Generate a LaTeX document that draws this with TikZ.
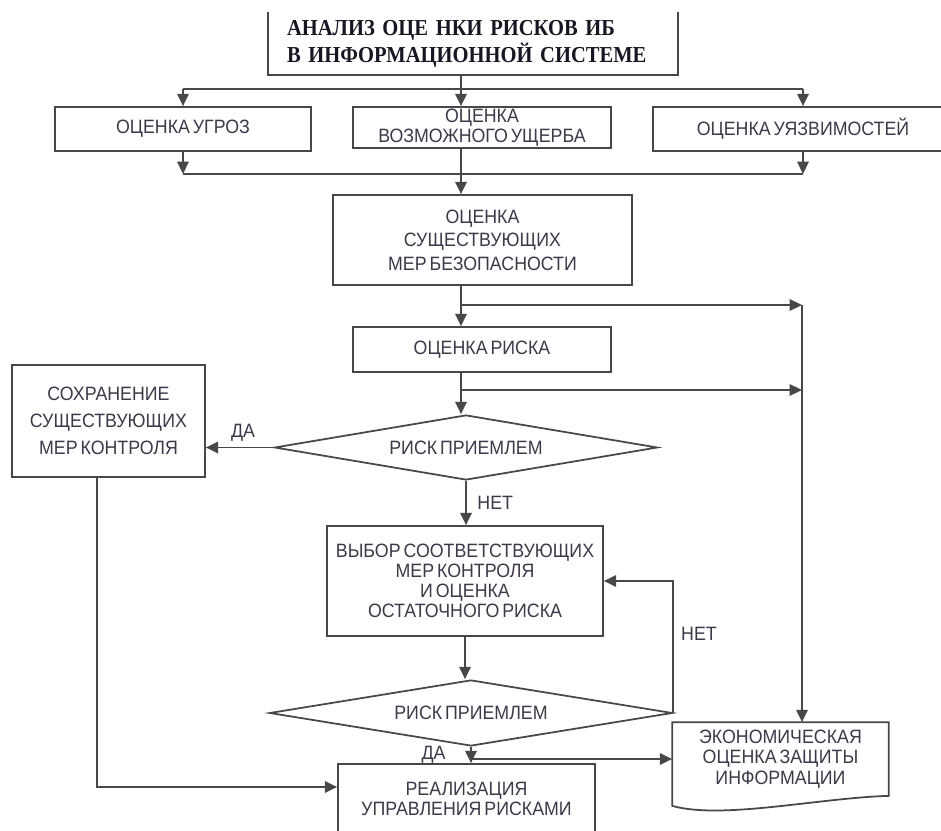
\documentclass[tikz,border=0pt]{standalone}
\usepackage{fontspec}
\usetikzlibrary{shapes.geometric,arrows.meta}
\newfontfamily\boxfont[FakeStretch=0.92,WordSpace=0.6]{Liberation Sans}
\newfontfamily\titlefont[FakeStretch=0.9,WordSpace=0.5]{Liberation Serif}
\definecolor{linegray}{RGB}{72,72,72}
\definecolor{textgray}{RGB}{62,56,72}
\begin{document}
\begin{tikzpicture}[x=0.02cm,y=-0.02cm,
  box/.style={draw=linegray,line width=1pt,fill=white,align=center,inner sep=0pt,
    font=\boxfont\fontsize{11}{11.5}\selectfont,text=textgray},
  decision/.style={box,diamond,aspect=6},
  arr/.style={draw=linegray,line width=1pt,-{Triangle[length=7pt,width=6.5pt]}},
  line/.style={draw=linegray,line width=1pt},
  lbl/.style={font=\boxfont\fontsize{11}{11.5}\selectfont,text=textgray,inner sep=0pt}]
  \useasboundingbox (0,0) rectangle (941,831);
  \clip (0,0) rectangle (941,831);
  \fill[white] (0,0) rectangle (941,831);
  % Top part: title and the three estimates
  \node[align=left,inner xsep=0.38cm,inner ysep=0pt,text width=7.44cm,minimum height=1.26cm,
        font=\titlefont\bfseries\fontsize{13}{15.4}\selectfont,text={rgb,255:red,25;green,22;blue,35}]
                (title)   at (473,43.5) {АНАЛИЗ ОЦЕ НКИ РИСКОВ ИБ\\В ИНФОРМАЦИОННОЙ СИСТЕМЕ};
  \draw[line] (title.north west) |- (title.south east) -- (title.north east);
  \node[box,minimum width=5.12cm,minimum height=0.88cm] (ugroz)   at (183,129)   {ОЦЕНКА УГРОЗ};
  \node[box,minimum width=5.16cm,minimum height=0.82cm] (usherb)  at (482,127.5) {ОЦЕНКА\\ВОЗМОЖНОГО УЩЕРБА};
  \node[box,minimum width=6.00cm,minimum height=0.88cm] (uyazv)   at (803,129)   {ОЦЕНКА УЯЗВИМОСТЕЙ};
  % Main column
  \node[box,minimum width=5.98cm,minimum height=1.8cm]  (sushmer) at (482.5,240) {ОЦЕНКА\\[1.9pt]СУЩЕСТВУЮЩИХ\\[1.9pt]МЕР БЕЗОПАСНОСТИ};
  \node[box,minimum width=5.16cm,minimum height=0.9cm]  (risk)    at (482,349.5) {ОЦЕНКА РИСКА};
  \node[decision,minimum width=7.66cm,minimum height=1.3cm] (dia1) at (466,447.5) {РИСК ПРИЕМЛЕМ};
  \node[box,minimum width=3.86cm,minimum height=2.24cm] (sohr)    at (108.5,421) {СОХРАНЕНИЕ\\[4pt]СУЩЕСТВУЮЩИХ\\[4pt]МЕР КОНТРОЛЯ};
  \node[box,minimum width=5.52cm,minimum height=2.2cm]  (vybor)   at (465,581)   {ВЫБОР СООТВЕТСТВУЮЩИХ\\МЕР КОНТРОЛЯ\\И ОЦЕНКА\\ОСТАТОЧНОГО РИСКА};
  \node[decision,minimum width=8.06cm,minimum height=1.32cm] (dia2) at (471,713) {РИСК ПРИЕМЛЕМ};
  \node[box,minimum width=5.14cm,minimum height=1.4cm]  (real)    at (466.5,799) {РЕАЛИЗАЦИЯ\\УПРАВЛЕНИЯ РИСКАМИ};
  % Document shape with wavy bottom
  \node[box,draw=none,fill=none,minimum width=4.3cm,minimum height=1.44cm] (econ) at (780.5,759) {};
  \draw[line,fill=white] (econ.north west) -- (econ.south west) -- ++(0,10)
        .. controls +(50,14) and +(-70,2) .. (econ.south east) -- (econ.north east) -- cycle;
  \node[lbl,align=center] at (econ) {ЭКОНОМИЧЕСКАЯ\\ОЦЕНКА ЗАЩИТЫ\\ИНФОРМАЦИИ};
  % Bus points
  \coordinate (split)     at (461,89);
  \coordinate (join)      at (461,174);
  \coordinate (right bus) at (802,305);
  \coordinate (bus2)      at (802,390);
  \coordinate (left bus)  at (97,787);
  % Connectors
  \draw[line] (title.south -| split) -- (split);
  \draw[line] (ugroz.north |- split) -- (uyazv.north |- split);
  \draw[arr] (ugroz.north |- split) -- (ugroz.north);
  \draw[arr] (split) -- (usherb.north -| split);
  \draw[arr] (uyazv.north |- split) -- (uyazv.north);
  \draw[arr] (ugroz.south) -- (ugroz.south |- join);
  \draw[arr] (uyazv.south) -- (uyazv.south |- join);
  \draw[line] (ugroz.south |- join) -- (uyazv.south |- join);
  \draw[arr] (usherb.south -| join) -- (sushmer.north -| join);
  \draw[arr] (sushmer.south -| split) -- (risk.north -| split);
  \draw[arr] (split |- right bus) -- (right bus);
  \draw[arr] (risk.south -| split) -- (dia1.north -| split);
  \draw[arr] (split |- bus2) -- (bus2);
  \draw[arr] (right bus) -- (right bus |- econ.north);
  \draw[arr] (dia1.west) -- (sohr.east |- dia1.west) node[lbl,pos=0.45,above=3pt] {ДА};
  \draw[arr] (dia1.south) -- (vybor.north -| dia1.south) node[lbl,midway,right=6pt] {НЕТ};
  \draw[arr] (vybor.south) -- (vybor.south |- dia2.north);
  \draw[arr] (dia2.east) |- (vybor.east) node[lbl,pos=0.3,right=4pt] {НЕТ};
  \draw[arr] (dia2.south) -- (real.north -| dia2.south) node[lbl,pos=0.5,left=14pt] {ДА};
  \draw[arr] (dia2.south |- econ.west) -- (econ.west);
  \draw[arr] (sohr.south -| left bus) |- (real.west |- left bus);
\end{tikzpicture}
\end{document}
